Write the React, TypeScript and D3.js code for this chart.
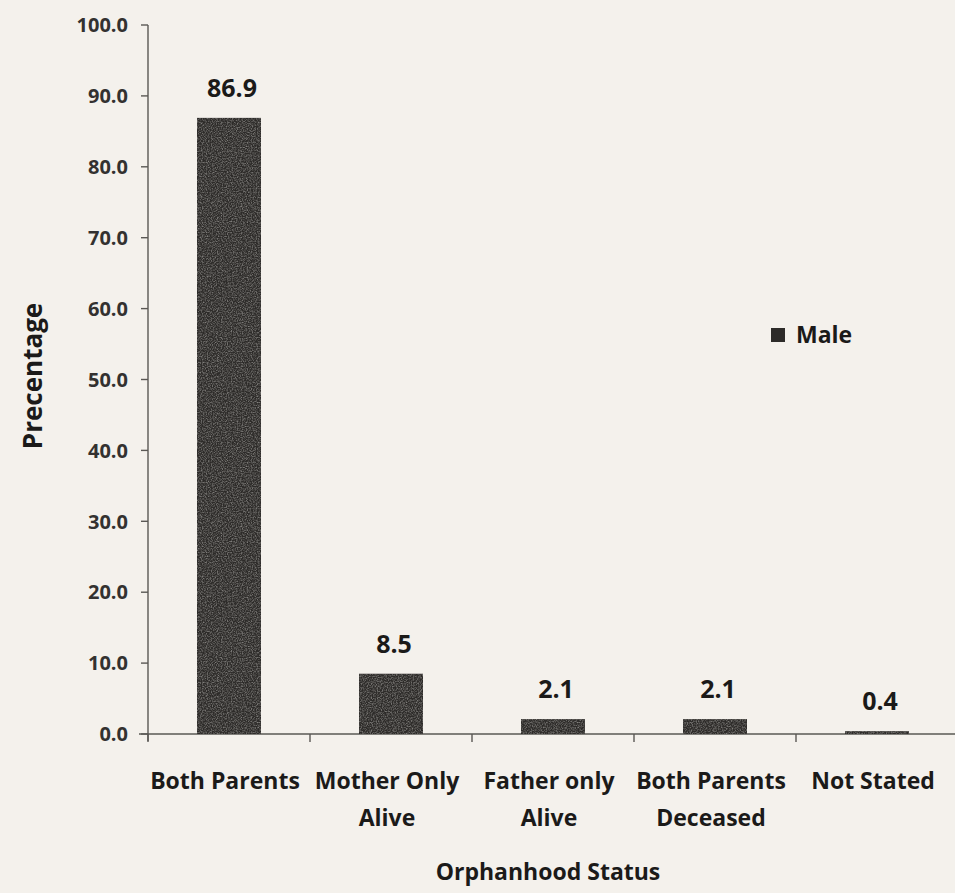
import React from "react";
import * as d3 from "d3";

const categories = ["Both Parents|", "Mother Only|Alive", "Father only|Alive", "Both Parents|Deceased", "Not Stated|"];
const maleValues = [86.9, 8.5, 2.1, 2.1, 0.4];
const yTicks = [0, 10, 20, 30, 40, 50, 60, 70, 80, 90, 100];
const seriesName = "Male";

const W = 955;
const H = 893;
const FONT = "'Open Sans', Lato, sans-serif";
const INK = "#1b1a19";

export default function App() {
  const x = d3.scaleBand<string>().domain(categories).range([148, 958]).paddingInner(0.605).paddingOuter(0.3025);
  const y = d3.scaleLinear().domain([0, 100]).range([734, 25]);
  const step = x.step();
  const x0 = 148;
  return (
    <svg width={W} height={H} style={{ position: "absolute", left: 0, top: 0, background: "#f4f1ec" }}>
      <defs>
        <filter id="grain" x="0" y="0" width="100%" height="100%">
          <feTurbulence type="fractalNoise" baseFrequency="0.8" numOctaves="2" seed="5" result="n" />
          <feColorMatrix in="n" type="matrix" values="0 0 0 0 0.55  0 0 0 0 0.54  0 0 0 0 0.52  0 0 0 -2.2 1.35" result="c" />
          <feComposite in="c" in2="SourceGraphic" operator="in" />
        </filter>
      </defs>
      <rect x={0} y={0} width={W} height={H} fill="#f4f1ec" />
      {/* y axis */}
      <line x1={x0} x2={x0} y1={y(100)} y2={y(0) + 7} stroke="#5a5855" strokeWidth={1.4} />
      {yTicks.map((t) => (
        <g key={t}>
          <line x1={x0 - 7} x2={x0} y1={y(t)} y2={y(t)} stroke="#5a5855" strokeWidth={1.4} />
          <text x={128} y={y(t)} dy="0.36em" textAnchor="end" fontFamily={FONT} fontWeight={700} fontSize={20} fill="#333130">
            {t.toFixed(1)}
          </text>
        </g>
      ))}
      {/* x axis */}
      <line x1={x0 - 9} x2={W} y1={y(0)} y2={y(0)} stroke="#5a5855" strokeWidth={1.4} />
      {categories.map((c, i) => (
        <line key={"t" + i} x1={x0 + step * i} x2={x0 + step * i} y1={y(0)} y2={y(0) + 8} stroke="#5a5855" strokeWidth={1.4} />
      ))}
      {/* bars */}
      {categories.map((c, i) => (
        <rect key={"b" + i} x={x(c)} y={y(maleValues[i])} width={x.bandwidth()} height={y(0) - y(maleValues[i])} fill="#2d2b29" />
      ))}
      {categories.map((c, i) => (
        <rect key={"g" + i} x={x(c)} y={y(maleValues[i])} width={x.bandwidth()} height={y(0) - y(maleValues[i])} fill="#2d2b29" filter="url(#grain)" opacity={0.55} />
      ))}
      {/* value labels */}
      {categories.map((c, i) => (
        <text key={"v" + i} x={(x(c) as number) + x.bandwidth() / 2 + 3} y={y(maleValues[i]) - 21} textAnchor="middle" fontFamily={FONT} fontWeight={700} fontSize={25} fill={INK}>
          {maleValues[i].toFixed(1)}
        </text>
      ))}
      {/* category labels */}
      {categories.map((c, i) => {
        const [l1, l2] = c.split("|");
        const cx = (x(c) as number) + x.bandwidth() / 2 - 4;
        return (
          <text key={"c" + i} x={cx} textAnchor="middle" fontFamily={FONT} fontWeight={700} fontSize={23} fill={INK}>
            <tspan x={cx} y={789}>{l1}</tspan>
            {l2 && <tspan x={cx} y={826}>{l2}</tspan>}
          </text>
        );
      })}
      {/* axis titles */}
      <text x={548} y={880} textAnchor="middle" fontFamily={FONT} fontWeight={700} fontSize={23} fill={INK}>
        Orphanhood Status
      </text>
      <text transform="translate(42,376) rotate(-90)" textAnchor="middle" fontFamily={FONT} fontWeight={700} fontSize={26} fill={INK}>
        Precentage
      </text>
      {/* legend */}
      <rect x={771} y={328} width={14} height={14} fill="#2d2b29" />
      <text x={796} y={343} fontFamily={FONT} fontWeight={700} fontSize={23} fill={INK}>
        {seriesName}
      </text>
    </svg>
  );
}
